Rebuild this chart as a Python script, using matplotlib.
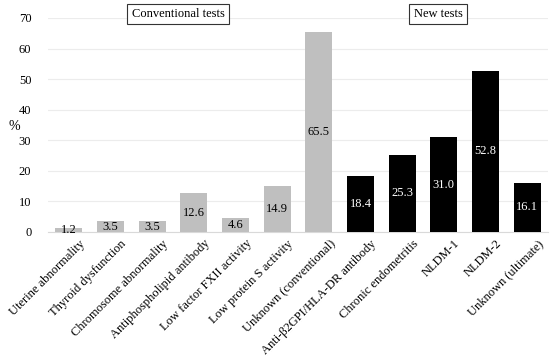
import matplotlib
matplotlib.use("Agg")
import matplotlib.pyplot as plt
import matplotlib.transforms as mtransforms
import numpy as np

categories = ["Uterine abnormality", "Thyroid dysfunction", "Chromosome abnormality",
              "Antiphospholipid antibody", "Low factor FXII activity", "Low protein S activity",
              "Unknown (conventional)", "Anti-\u03b22GPI/HLA-DR antibody", "Chronic endometritis",
              "NLDM-1", "NLDM-2", "Unknown (ultimate)"]
values = [1.2, 3.5, 3.5, 12.6, 4.6, 14.9, 65.5, 18.4, 25.3, 31.0, 52.8, 16.1]
groups = ["conv"] * 7 + ["new"] * 5
yticks = [0, 10, 20, 30, 40, 50, 60, 70]

plt.rcParams['font.family'] = ['Liberation Serif', 'DejaVu Serif']

fig = plt.figure(figsize=(5.5, 3.57), dpi=100)
ax = fig.add_axes([48/550, 1-232/357, 500/550, (232-18)/357])

x = np.arange(len(categories))
colors = ["#bfbfbf" if g == "conv" else "#000000" for g in groups]
ax.bar(x, values, width=0.65, color=colors, zorder=3)

for xi, v, g in zip(x, values, groups):
    ax.text(xi, v / 2, f"{v:.1f}", ha="center", va="center", fontsize=9,
            color="black" if g == "conv" else "white", zorder=4)

ax.set_xlim(-0.5, len(categories) - 0.5)
ax.set_ylim(0, 70)
ax.set_yticks(yticks)
ax.tick_params(axis='y', length=0, labelsize=9, pad=12)
ax.tick_params(axis='x', length=0, labelsize=9, pad=4)
ax.set_xticks(x)
ax.set_xticklabels(categories, rotation=45, ha="right", rotation_mode="anchor")
offset = mtransforms.ScaledTranslation(10/100, 0, fig.dpi_scale_trans)
for lab in ax.get_xticklabels():
    lab.set_transform(lab.get_transform() + offset)
ax.yaxis.grid(True, color="#ececec", linewidth=0.8, zorder=0)
for s in ["top", "right", "left"]:
    ax.spines[s].set_visible(False)
ax.spines["bottom"].set_color("#d9d9d9")
fig.text(14/550, 1-126/357, "%", ha="center", va="center", fontsize=10)

fig.text(178/550, 1-14/357, "Conventional tests", ha="center", va="center", fontsize=9,
         bbox=dict(boxstyle="square,pad=0.35", fc="white", ec="#333333", lw=0.8))
fig.text(438/550, 1-14/357, "New tests", ha="center", va="center", fontsize=9,
         bbox=dict(boxstyle="square,pad=0.35", fc="white", ec="#333333", lw=0.8))

fig.savefig("out.png", dpi=100)
